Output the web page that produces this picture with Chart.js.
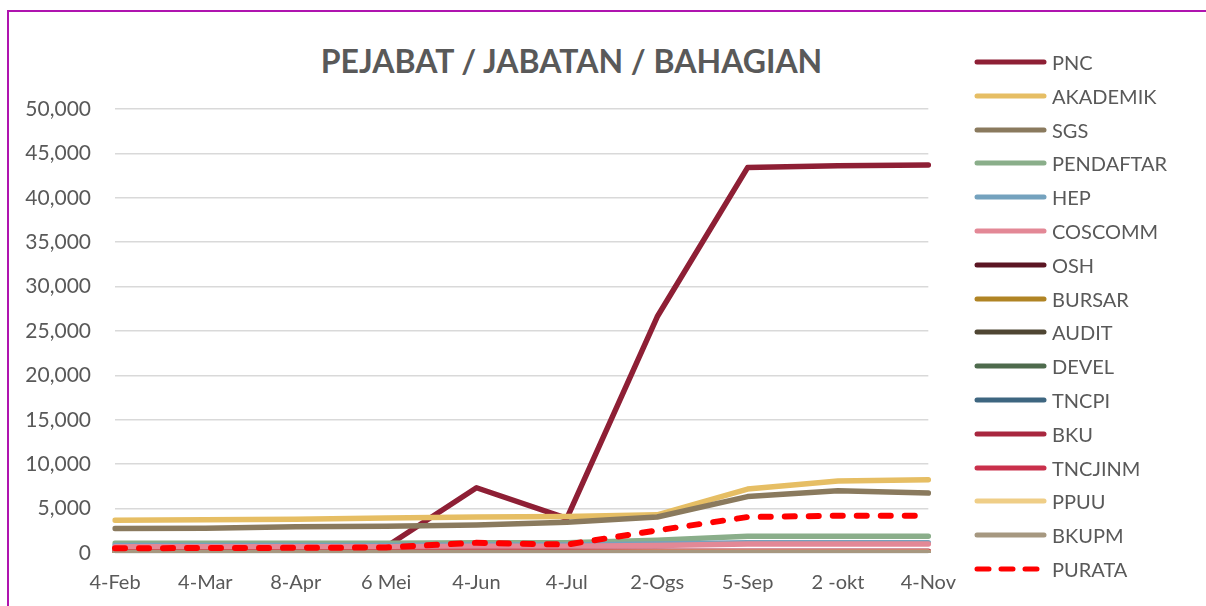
<!DOCTYPE html>
<html>
<head>
<meta charset="utf-8">
<script src="https://cdn.jsdelivr.net/npm/chart.js@4.4.1/dist/chart.umd.min.js"></script>
<style>
  html, body { margin: 0; padding: 0; background: #fff; }
  body { width: 1206px; height: 606px; position: relative; overflow: hidden; font-family: Lato, "Open Sans", sans-serif; }
  #frame { position: absolute; left: 7px; top: 10px; width: 1400px; height: 800px; border-left: 2px solid #AF14AF; border-top: 2px solid #AF14AF; }
  #wrap { position: absolute; left: 0; top: 0; width: 974px; height: 606px; }
  #title { position: absolute; left: 0; width: 1143px; top: 39px; text-align: center; font-weight: 700; font-size: 32px; color: #595959; line-height: 44px; }
  #legend { position: absolute; left: 0; top: 0; }
  .li { position: absolute; left: 972px; height: 30px; }
  .li svg { position: absolute; left: 0; top: 0; }
  .li span { position: absolute; left: 80px; top: 2px; font-size: 20px; line-height: 26px; color: #595959; white-space: nowrap; }
</style>
</head>
<body>
<div id="frame"></div>
<div id="title">PEJABAT / JABATAN / BAHAGIAN</div>
<div id="wrap"><canvas id="c" width="974" height="606"></canvas></div>
<div id="legend"></div>
<script>
const labels = ['4-Feb','4-Mar','8-Apr','6 Mei','4-Jun','4-Jul','2-Ogs','5-Sep','2 -okt','4-Nov'];
const yTicks = [0, 5000, 10000, 15000, 20000, 25000, 30000, 35000, 40000, 45000, 50000];

const PNC       = [500, 500, 550, 700, 7350, 3900, 26600, 43400, 43600, 43700];
const AKADEMIK  = [3700, 3750, 3800, 3950, 4050, 4100, 4300, 7200, 8100, 8250];
const SGS       = [2750, 2800, 2950, 3000, 3150, 3450, 4050, 6350, 7000, 6750];
const PENDAFTAR = [1100, 1100, 1100, 1100, 1150, 1150, 1450, 1900, 1900, 1900];
const HEP       = [850, 850, 850, 850, 900, 900, 1000, 1150, 1150, 1150];
const COSCOMM   = [700, 700, 700, 700, 750, 750, 850, 1000, 1000, 1000];
const OSH       = [60, 60, 60, 60, 70, 70, 80, 90, 90, 90];
const BURSAR    = [80, 80, 80, 80, 90, 90, 100, 110, 110, 110];
const AUDIT     = [40, 40, 40, 40, 50, 50, 50, 60, 60, 60];
const DEVEL     = [70, 70, 70, 70, 80, 80, 90, 100, 100, 100];
const TNCPI     = [90, 90, 90, 90, 100, 100, 110, 120, 120, 120];
const BKU       = [150, 150, 150, 150, 170, 170, 190, 210, 210, 210];
const TNCJINM   = [100, 100, 100, 100, 110, 110, 120, 130, 130, 130];
const PPUU      = [60, 60, 60, 60, 70, 70, 80, 90, 90, 90];
const BKUPM     = [30, 30, 30, 30, 40, 40, 40, 50, 50, 50];
const PURATA    = [530, 560, 580, 620, 1150, 950, 2550, 4050, 4200, 4200];

const seriesNames  = ['PNC','AKADEMIK','SGS','PENDAFTAR','HEP','COSCOMM','OSH','BURSAR','AUDIT','DEVEL','TNCPI','BKU','TNCJINM','PPUU','BKUPM','PURATA'];
const seriesData   = [PNC, AKADEMIK, SGS, PENDAFTAR, HEP, COSCOMM, OSH, BURSAR, AUDIT, DEVEL, TNCPI, BKU, TNCJINM, PPUU, BKUPM, PURATA];
const seriesColors = ['#8E1F35','#E6BE64','#8A7A5E','#8AAE8A','#74A2BE','#E38896','#5B1523','#B08424','#4F4633','#4E6B4D','#3E6680','#A8273F','#C9304B','#EFCE87','#A69880','#FF0000'];

const N = seriesNames.length;
const datasets = seriesNames.map((name, i) => {
  const dashed = name === 'PURATA';
  return {
    label: name,
    data: seriesData[i],
    borderColor: seriesColors[i],
    backgroundColor: seriesColors[i],
    borderWidth: dashed ? 6 : 5.5,
    borderDash: dashed ? [10, 14] : [],
    borderCapStyle: 'round',
    borderJoinStyle: 'round',
    pointRadius: 0,
    pointHoverRadius: 0,
    tension: 0,
    fill: false,
    order: N - i
  };
});

new Chart(document.getElementById('c'), {
  type: 'line',
  data: { labels, datasets },
  options: {
    responsive: false,
    animation: false,
    events: [],
    layout: { padding: { top: 109, right: 18, left: 0, bottom: 0 } },
    plugins: { legend: { display: false }, title: { display: false }, tooltip: { enabled: false } },
    scales: {
      x: {
        offset: false,
        grid: { display: false, drawTicks: false },
        border: { display: false },
        ticks: { padding: 18, color: '#595959', font: { family: 'Lato', size: 20 }, maxRotation: 0, autoSkip: false },
        afterFit: (s) => { s.height = 53; }
      },
      y: {
        min: 0, max: 50000,
        afterBuildTicks: (s) => { s.ticks = yTicks.map(v => ({ value: v })); },
        grid: { color: '#D9D9D9', lineWidth: 1.5, drawTicks: false },
        border: { display: false },
        ticks: {
          padding: 24, color: '#595959', font: { family: 'Lato', size: 21 },
          callback: (v) => v.toLocaleString('en-US')
        },
        afterFit: (s) => { s.width = 115; }
      }
    }
  }
});

// HTML legend
const leg = document.getElementById('legend');
seriesNames.forEach((name, i) => {
  const cy = 62 + i * 33.8;
  const div = document.createElement('div');
  div.className = 'li';
  div.style.top = (cy - 15) + 'px';
  const dashed = name === 'PURATA';
  div.innerHTML =
    '<svg width="80" height="30"><line x1="5" y1="15" x2="' + (dashed ? 70 : 72) + '" y2="15" stroke="' + seriesColors[i] +
    '" stroke-width="5" stroke-linecap="round"' + (dashed ? ' stroke-dasharray="12 12"' : '') + '/></svg>' +
    '<span>' + name + '</span>';
  leg.appendChild(div);
});
</script>
</body>
</html>
